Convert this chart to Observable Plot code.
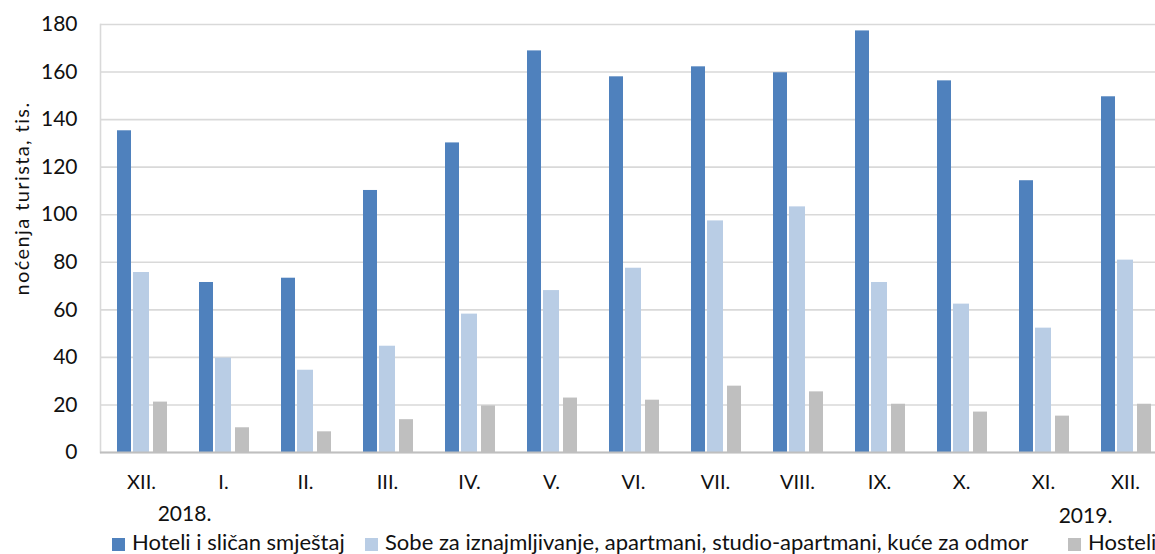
<!DOCTYPE html>
<html>
<head>
<meta charset="utf-8">
<script src="https://cdn.jsdelivr.net/npm/d3@7"></script>
<script src="https://cdn.jsdelivr.net/npm/@observablehq/plot@0.6"></script>
<style>
  html, body { margin: 0; padding: 0; background: #fff; overflow: hidden; width: 1155px; height: 554px; }
  #wrap { position: relative; width: 1155px; height: 554px; font-family: Lato, "Noto Sans", sans-serif; color: #111; }
  #chart svg { display: block; max-width: none; }
  #legend { position: absolute; top: 527px; left: 0; width: 1155px; height: 30px; font-size: 22px; line-height: 30px; }
  .item { position: absolute; top: 0; white-space: nowrap; }
  .sw { display: inline-block; width: 13px; height: 13px; margin-right: 7px; vertical-align: -1px; }
</style>
</head>
<body>
<div id="wrap">
  <div id="chart"></div>
  <div id="legend"></div>
</div>
<script>
const months = ["XII.", "I.", "II.", "III.", "IV.", "V.", "VI.", "VII.", "VIII.", "IX.", "X.", "XI.", "XII."];
const hoteli = [135.3, 71.5, 73.3, 110.2, 130.2, 168.9, 158.0, 162.2, 159.7, 177.3, 156.3, 114.3, 149.6];
const sobe = [75.7, 39.7, 34.6, 44.7, 58.2, 68.1, 77.5, 97.4, 103.3, 71.5, 62.4, 52.3, 80.9];
const hosteli = [21.2, 10.4, 8.7, 13.8, 19.6, 22.9, 22.0, 27.9, 25.5, 20.3, 17.0, 15.3, 20.3];
const yTicks = [0, 20, 40, 60, 80, 100, 120, 140, 160, 180];
const seriesNames = ["Hoteli i sličan smještaj", "Sobe za iznajmljivanje, apartmani, studio-apartmani, kuće za odmor", "Hosteli"];
const seriesColors = ["#4f81bd", "#b9cde5", "#bfbfbf"];
const yearText = ["2018.", "2019."];
const yearIndex = [0, 12];
const yTitle = "noćenja turista, tis.";

const idx = months.map((m, i) => i);

const chart = Plot.plot({
  width: 1155,
  height: 530,
  marginLeft: 100,
  marginRight: -11,
  marginTop: 24,
  marginBottom: 78,
  style: { fontFamily: "Lato, 'Noto Sans', sans-serif", fontSize: "20px", color: "#111", background: "#fff", overflow: "visible" },
  x: { type: "band", domain: idx, padding: 0 },
  y: { domain: [0, 180] },
  marks: [
    Plot.gridY({ ticks: yTicks, stroke: "#d9d9d9", strokeOpacity: 1, strokeWidth: 1.6 }),
    Plot.frame({ anchor: "left", stroke: "#d9d9d9", strokeWidth: 1.6 }),
    Plot.barY(hoteli, { x: (d, i) => idx[i], y: d => d, fill: seriesColors[0], insetLeft: 17, insetRight: 51 }),
    Plot.barY(sobe, { x: (d, i) => idx[i], y: d => d, fill: seriesColors[1], insetLeft: 33, insetRight: 33 }),
    Plot.barY(hosteli, { x: (d, i) => idx[i], y: d => d, fill: seriesColors[2], insetLeft: 53, insetRight: 15 }),
    Plot.ruleY([0], { stroke: "#bfbfbf", strokeWidth: 2 }),
    Plot.axisY({ ticks: yTicks, tickSize: 0, tickPadding: 23, label: null, fill: "#111", fontSize: 21 }),
    Plot.axisX({ tickSize: 0, tickPadding: 22, tickFormat: i => months[i], label: null, fill: "#111", fontSize: 20 }),
    Plot.text([yearText[0]], { x: () => yearIndex[0], frameAnchor: "bottom", dy: 68, dx: 43, fill: "#111", fontSize: 21 }),
    Plot.text([yearText[1]], { x: () => yearIndex[1], frameAnchor: "bottom", dy: 70, dx: -40, fill: "#111", fontSize: 21 }),
    Plot.text([yTitle], { frameAnchor: "left", textAnchor: "middle", rotate: -90, dx: -78, dy: -40, fill: "#111", fontSize: 20 })
  ]
});
document.getElementById("chart").appendChild(chart);
chart.querySelectorAll("text").forEach(t => { if (t.textContent === yTitle) t.style.letterSpacing = "1.4px"; });

const legendLefts = [112, 365, 1068];
const legend = document.getElementById("legend");
seriesNames.forEach((name, i) => {
  const it = document.createElement("div");
  it.className = "item";
  it.style.left = legendLefts[i] + "px";
  it.innerHTML = `<span class="sw" style="background:${seriesColors[i]}"></span>${name}`;
  legend.appendChild(it);
});
</script>
</body>
</html>
